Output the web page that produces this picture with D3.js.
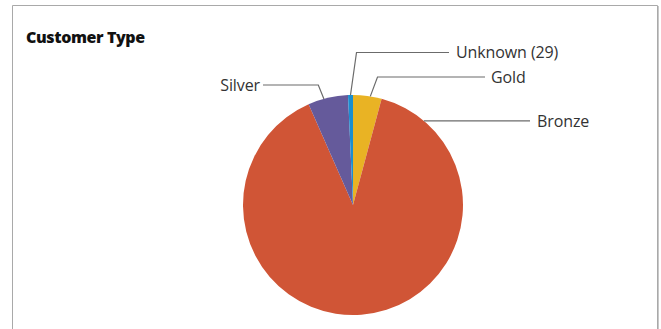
<!DOCTYPE html>
<html>
<head>
<meta charset="utf-8">
<script src="https://cdn.jsdelivr.net/npm/d3@7"></script>
<style>
  html, body { margin: 0; padding: 0; background: #fff; }
  svg { display: block; }
</style>
</head>
<body>
<svg id="chart" width="661" height="329"></svg>
<script>
// ---- data ----
const categories = ["Gold", "Bronze", "Silver", "Unknown"];
const counts = [168, 3575, 236, 29];
const labels = ["Gold", "Bronze", "Silver", "Unknown (29)"];
const colors = ["#E9B324", "#D05536", "#655A9B", "#1B8ED0"];
const title = "Customer Type";

// ---- layout ----
const W = 661, H = 329;
const cx = 353, cy = 205, R = 110;
// per-label leader layout: anchor fraction inside slice, elbow (relative to center), text side
const leader = {
  "Gold":    { frac: 0.6,  elbow: [24.5, -128], endX: 485, textX: 491, side: "right" },
  "Bronze":  { frac: 0.078, elbow: null,        endX: 530, textX: 537, side: "right" },
  "Silver":  { frac: 0.4,  elbow: [-34.7, -120], endX: 263, textX: 260, side: "left" },
  "Unknown": { frac: 0.5,  elbow: [3.5, -152.5], endX: 449, textX: 456, side: "right" }
};

const svg = d3.select("#chart");
svg.append("rect").attr("width", W).attr("height", H).attr("fill", "#fff");

// frame
svg.append("path")
  .attr("d", `M12.5,${H + 2} L12.5,5.5 L657.5,5.5 L657.5,${H + 2}`)
  .attr("fill", "none").attr("stroke", "#a9a9a9").attr("stroke-width", 1);
svg.append("line").attr("x1", 658.5).attr("x2", 658.5).attr("y1", 6).attr("y2", H + 2)
  .attr("stroke", "#c8c8c8").attr("stroke-width", 1);

svg.append("text")
  .attr("x", 26).attr("y", 43)
  .attr("font-family", "'Open Sans', sans-serif")
  .attr("font-weight", 800).attr("font-size", 16)
  .attr("letter-spacing", -0.4)
  .attr("fill", "#111")
  .text(title);

const data = categories.map((c, i) => ({ cat: c, value: counts[i], label: labels[i], color: colors[i] }));

const pie = d3.pie().sort(null).value(d => d.value);
const arcs = pie(data);
const arc = d3.arc().innerRadius(0).outerRadius(R);

const g = svg.append("g").attr("transform", `translate(${cx},${cy})`);
g.selectAll("path.slice").data(arcs).enter().append("path")
  .attr("class", "slice")
  .attr("d", arc)
  .attr("fill", d => d.data.color);

// leaders and labels
arcs.forEach(a => {
  const L = leader[a.data.cat];
  const ang = a.startAngle + (a.endAngle - a.startAngle) * L.frac;
  const sx = Math.sin(ang) * R, sy = -Math.cos(ang) * R;
  let pts;
  let ly;
  if (L.elbow) {
    pts = [[sx, sy], L.elbow, [L.endX - cx, L.elbow[1]]];
    ly = L.elbow[1];
  } else {
    pts = [[sx, sy], [L.endX - cx, sy]];
    ly = sy;
  }
  g.append("path")
    .attr("d", d3.line()(pts))
    .attr("fill", "none")
    .attr("stroke", "#6b6b6b")
    .attr("stroke-width", 1.2);
  g.append("text")
    .attr("x", L.textX - cx)
    .attr("y", ly)
    .attr("dy", "0.36em")
    .attr("text-anchor", L.side === "left" ? "end" : "start")
    .attr("font-family", "'Open Sans', sans-serif")
    .attr("font-size", 16)
    .attr("letter-spacing", -0.1)
    .attr("fill", "#333")
    .text(a.data.label);
});
</script>
</body>
</html>
